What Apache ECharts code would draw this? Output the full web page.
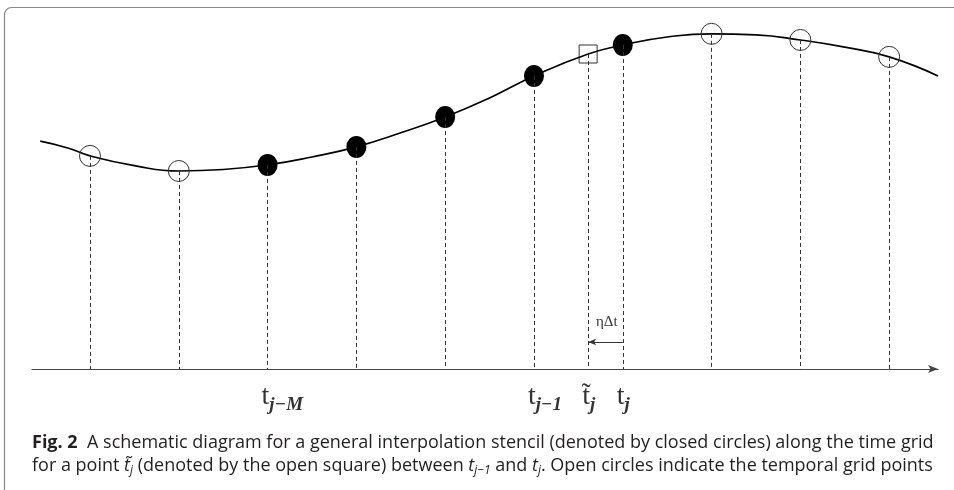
<!DOCTYPE html>
<html><head><meta charset="utf-8">
<script src="https://cdn.jsdelivr.net/npm/echarts@6/dist/echarts.min.js"></script>
<style>html,body{margin:0;padding:0;background:#fff}#c{width:954px;height:490px}</style>
</head><body><div id="c"></div>
<script>
// time-grid index of each grid point and height of the curve there
const gridT = [0, 1, 2, 3, 4, 5, 6, 7, 8, 9];
const gridY = [5.92, 5.50, 5.67, 6.17, 7.00, 8.14, 9.00, 9.31, 9.14, 8.67];
const stencilIdx = [2, 3, 4, 5, 6];        // closed circles
const openIdx = [0, 1, 7, 8, 9];           // open circles
// the interpolation point (open square)
const squareT = [5.61];
const squareY = [8.75];
// sampled curve
const curveT = [-0.56, -0.25, 0, 0.5, 1, 1.5, 2, 2.5, 3, 3.5, 4, 4.5, 5, 5.61, 6, 6.5, 7, 7.5, 8, 8.5, 9, 9.55];
const curveY = [6.33, 6.14, 5.92, 5.65, 5.50, 5.54, 5.67, 5.89, 6.17, 6.56, 7.00, 7.53, 8.14, 8.75, 9.00, 9.22, 9.31, 9.28, 9.14, 8.94, 8.67, 8.14];
// tick labels under the axis
const labelT = [2, 5, 5.61, 6];
const labelMain = ['t', 't', 't\u0303', 't'];
const labelSub = ['j\u2212M', 'j\u22121', 'j', 'j'];
// eta*dt annotation
const etaText = '\u03b7\u0394t';
const etaPos = [5.82, 1.31];
const arrowFrom = [6, 0.75];
const arrowTo = [5.61, 0.75];
const caption1 = '{b|Fig. 2}  A schematic diagram for a general interpolation stencil (denoted by closed circles) along the time grid';
const caption2 = 'for a point {i|t\u0303}{s|j} (denoted by the open square) between {i|t}{s|j\u22121} and {i|t}{s|j}. Open circles indicate the temporal grid points';

const chart = echarts.init(document.getElementById('c'), null, {renderer: 'canvas'});

const dropPts = gridT.map((t, i) => [t, gridY[i]]).concat(squareT.map((t, i) => [t, squareY[i]]));
const serif = 'Liberation Serif';
const capFont = 'Open Sans';
const capColor = '#231f20';

const option = {
  animation: false,
  backgroundColor: '#fff',
  grid: {left: 32, right: 16, top: 9, bottom: 31, containLabel: false},
  xAxis: {
    type: 'value', min: -0.653, max: 9.55,
    axisLine: {show: true, onZero: true, symbol: ['none', 'arrow'], symbolSize: [6, 10],
      lineStyle: {color: '#444', width: 1.2}},
    axisTick: {show: false}, axisLabel: {show: false}, splitLine: {show: false}
  },
  yAxis: {type: 'value', min: -2.5, max: 10, show: false, splitLine: {show: false}},
  graphic: [
    {type: 'rect', shape: {x: 4.5, y: 7.5, width: 1200, height: 800, r: 7}, silent: true,
      style: {fill: 'none', stroke: '#8a8a8a', lineWidth: 1.2}},
    {type: 'text', left: 32, top: 434, silent: true,
      style: {text: caption1, fontFamily: capFont, fontSize: 18, fill: capColor,
        rich: {b: {fontFamily: capFont, fontSize: 18, fontWeight: 'bold', fill: capColor}}}},
    {type: 'text', left: 32, top: 457, silent: true,
      style: {text: caption2, fontFamily: capFont, fontSize: 18, fill: capColor,
        rich: {
          i: {fontFamily: capFont, fontSize: 18, fontStyle: 'italic', fill: capColor},
          s: {fontFamily: capFont, fontSize: 12, fontStyle: 'italic', fill: capColor, padding: [9, 0, 0, 0]}
        }}}
  ],
  series: [
    {
      type: 'line', data: [], z: 1, silent: true,
      markLine: {
        silent: true, symbol: ['none', 'none'], label: {show: false},
        lineStyle: {type: [4, 3], color: '#333', width: 1},
        data: dropPts.map(p => [{coord: p}, {coord: [p[0], 0]}])
      }
    },
    {
      type: 'scatter', z: 2, silent: true, symbol: 'rect', symbolSize: 18,
      itemStyle: {color: '#fff', borderColor: '#333', borderWidth: 1, opacity: 1},
      data: squareT.map((t, i) => [t, squareY[i]])
    },
    {
      type: 'line', z: 3, silent: true, smooth: 0.5, showSymbol: false,
      lineStyle: {color: '#000', width: 1.6},
      data: curveT.map((t, i) => [t, curveY[i]])
    },
    {
      type: 'scatter', z: 4, silent: true, symbol: 'circle', symbolSize: 21,
      itemStyle: {color: 'rgba(0,0,0,0)', borderColor: '#333', borderWidth: 1, opacity: 1},
      data: openIdx.map(i => [gridT[i], gridY[i]])
    },
    {
      type: 'scatter', z: 4, silent: true, symbol: 'circle', symbolSize: [20, 22],
      itemStyle: {color: '#000', opacity: 1},
      data: stencilIdx.map(i => [gridT[i], gridY[i]])
    },
    {
      type: 'scatter', z: 5, silent: true, symbolSize: 0,
      data: labelT.map((t, i) => ({value: [t, -0.78], main: labelMain[i], sub: labelSub[i]})),
      label: {
        show: true, position: 'inside', align: 'left', verticalAlign: 'middle', offset: [-6, 0],
        formatter: p => '{t|' + p.data.main + '}{s|' + p.data.sub + '}',
        rich: {
          t: {fontFamily: serif, fontSize: 28, color: '#000', verticalAlign: 'bottom'},
          s: {fontFamily: serif, fontSize: 19, fontStyle: 'italic', fontWeight: 'bold', color: '#000',
            verticalAlign: 'bottom', padding: [0, 0, -4, 0]}
        }
      }
    },
    {
      type: 'scatter', z: 5, silent: true, symbolSize: 0,
      data: [{value: etaPos}],
      label: {show: true, position: 'inside', formatter: etaText,
        fontFamily: serif, fontSize: 15, color: '#000'},
      markLine: {
        silent: true, symbol: ['none', 'arrow'], symbolSize: [5, 8], label: {show: false},
        lineStyle: {type: 'solid', color: '#333', width: 1},
        data: [[{coord: arrowFrom}, {coord: arrowTo}]]
      }
    }
  ]
};
chart.setOption(option);
</script>
</body></html>
